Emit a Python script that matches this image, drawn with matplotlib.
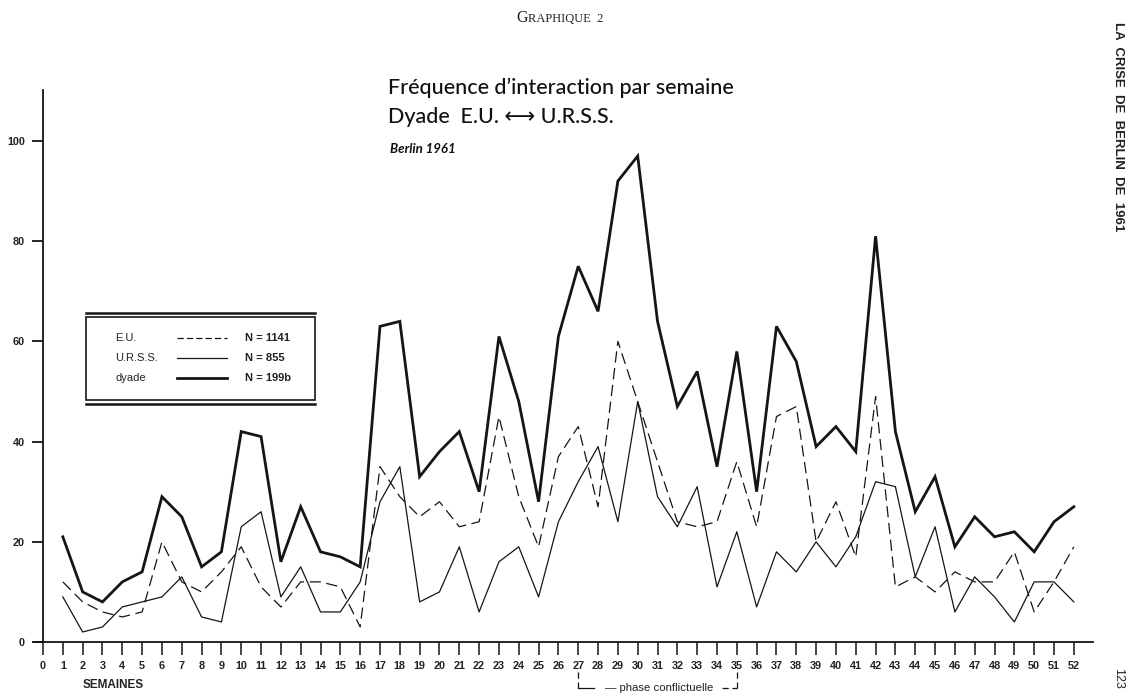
import numpy as np
import matplotlib
matplotlib.use("Agg")
import matplotlib.pyplot as plt
from matplotlib.lines import Line2D
from matplotlib.patches import Rectangle

# weekly interaction counts, Berlin 1961
semaines = list(range(1, 53))
eu = [12, 8, 6, 5, 6, 20, 12, 10, 14, 19, 11, 7, 12, 12, 11, 3,
      35, 29, 25, 28, 23, 24, 45, 29, 19, 37, 43, 27, 60, 48, 36, 24,
      23, 24, 36, 23, 45, 47, 20, 28, 17, 49, 11, 13, 10, 14, 12, 12,
      18, 6, 12, 19]
urss = [9, 2, 3, 7, 8, 9, 13, 5, 4, 23, 26, 9, 15, 6, 6, 12,
        28, 35, 8, 10, 19, 6, 16, 19, 9, 24, 32, 39, 24, 48, 29, 23,
        31, 11, 22, 7, 18, 14, 20, 15, 21, 32, 31, 13, 23, 6, 13, 9,
        4, 12, 12, 8]
dyade = [21, 10, 8, 12, 14, 29, 25, 15, 18, 42, 41, 16, 27, 18, 17, 15,
         63, 64, 33, 38, 42, 30, 61, 48, 28, 61, 75, 66, 92, 97, 64, 47,
         54, 35, 58, 30, 63, 56, 39, 43, 38, 81, 42, 26, 33, 19, 25, 21,
         22, 18, 24, 27]
yticks = [0, 20, 40, 60, 80, 100]
legend_rows = [("E.U.", "N = 1141"), ("U.R.S.S.", "N = 855"), ("dyade", "N = 199b")]

W, H = 1129, 693
fig = plt.figure(figsize=(W / 100, H / 100), dpi=100)
fig.patch.set_facecolor("white")

# axes placed in pixel terms: week 0 at x=43, y=0 at row 642
x0, x1, ytop, ybot = 43, 1093, 90, 642
ax = fig.add_axes([x0 / W, (H - ybot) / H, (x1 - x0) / W, (ybot - ytop) / H])
px_week = (1074 - 63) / 51.0
px_unit = (642 - 141) / 100.0
ax.set_xlim(0, (x1 - x0) / px_week)
ax.set_ylim(0, (ybot - ytop) / px_unit)

ink = "#151515"
ax.plot(semaines, dyade, color=ink, lw=2.0, solid_joinstyle="miter")
ax.plot(semaines, urss, color=ink, lw=0.9)
ax.plot(semaines, eu, color=ink, lw=0.9, dashes=(9, 4.5))

for s in ["top", "right"]:
    ax.spines[s].set_visible(False)
ax.spines["left"].set_linewidth(1.3)
ax.spines["bottom"].set_linewidth(1.3)
ax.spines["left"].set_color(ink)
ax.spines["bottom"].set_color(ink)
ax.plot([-0.45, 0], [0, 0], color=ink, lw=1.3, clip_on=False)

tick_font = dict(family="Liberation Sans", size=7.8, weight="bold")
ax.set_xticks(range(0, 53))
ax.set_xticklabels([str(i) for i in range(0, 53)], fontdict=tick_font, color="#222222")
ax.set_yticks(yticks)
ax.set_yticklabels([str(v) for v in yticks], fontdict=tick_font, color="#222222")
ax.tick_params(axis="x", direction="out", length=9, width=1.1, pad=5, color=ink)
ax.tick_params(axis="y", direction="out", length=8, width=1.3, pad=5, color=ink)

def fx(px):
    return px / W

def fy(py):
    return 1 - py / H

fig.text(fx(83), fy(685), "SEMAINES", fontsize=8.5, family="Liberation Sans",
         weight="bold", color="#222222", va="center")

# titles
fig.text(fx(528), fy(18), "G", fontsize=11.5, family="Liberation Serif", color="#222222",
         ha="right", va="center")
fig.text(fx(528), fy(19), "RAPHIQUE  2", fontsize=9, family="Liberation Serif",
         color="#222222", ha="left", va="center")
fig.text(fx(388), fy(88), "Fréquence d\u2019interaction par semaine", fontsize=15.5,
         family="Lato", weight="medium", color="#111111", va="center")
fig.text(fx(388), fy(117), "Dyade  E.U. \u27f7 U.R.S.S.", fontsize=15.5,
         family=["Lato", "DejaVu Sans"], weight="medium", color="#111111", va="center")
fig.text(fx(390), fy(149), "Berlin 1961", fontsize=9.5, family="Lato", style="italic",
         weight="bold", color="#111111", va="center")

# running header on the right margin
fig.text(fx(1118), fy(22), "LA  CRISE  DE  BERLIN  DE  1961", fontsize=9.5,
         family="Liberation Sans", weight="bold", rotation=-90, ha="center", va="top",
         color="#222222")
fig.text(fx(1118), fy(668), "123", fontsize=9, family="Liberation Sans",
         rotation=-90, ha="center", va="top", color="#222222")

# legend box with double rules
lx0, lx1, ly0, ly1 = 86, 315, 317, 400
fig.add_artist(Rectangle((fx(lx0), fy(ly1)), fx(lx1 - lx0), (ly1 - ly0) / H,
                         fill=False, lw=1.2, edgecolor=ink, transform=fig.transFigure))
for yy, lw in [(313.5, 1.8), (404, 1.8)]:
    fig.add_artist(Line2D([fx(lx0), fx(lx1)], [fy(yy), fy(yy)], lw=lw, color=ink,
                          transform=fig.transFigure))
styles = [dict(lw=0.9, dashes=(5, 2.5)), dict(lw=0.9), dict(lw=2.0)]
for i, ((name, n), st) in enumerate(zip(legend_rows, styles)):
    yy = 338 + i * 20
    fig.text(fx(115), fy(yy), name, fontsize=8, family="Liberation Sans",
             color="#222222", va="center")
    fig.add_artist(Line2D([fx(177), fx(227)], [fy(yy), fy(yy)], color=ink,
                          transform=fig.transFigure, **st))
    fig.text(fx(245), fy(yy), n, fontsize=8, family="Liberation Sans",
             weight="bold", color="#222222", va="center")

# bracket for the conflict phase (weeks 27 to 35)
bx0 = 63 + 26 * px_week
bx1 = 63 + 34 * px_week
by0, by1 = 672, 688
br = dict(color=ink, lw=0.9, dashes=(5, 3), transform=fig.transFigure)
fig.add_artist(Line2D([fx(bx0), fx(bx0)], [fy(by0), fy(by1)], **br))
fig.add_artist(Line2D([fx(bx1), fx(bx1)], [fy(by0), fy(by1)], **br))
fig.add_artist(Line2D([fx(bx0), fx(594)], [fy(by1), fy(by1)], color=ink, lw=0.9,
                      transform=fig.transFigure))
fig.add_artist(Line2D([fx(722), fx(bx1)], [fy(by1), fy(by1)], color=ink, lw=0.9,
                      dashes=(5, 3), transform=fig.transFigure))
fig.text(fx(659), fy(688), "\u2014 phase conflictuelle", fontsize=8.2,
         family="Liberation Sans", color="#222222", ha="center", va="center")

fig.savefig("out.png", dpi=100, facecolor="white")
